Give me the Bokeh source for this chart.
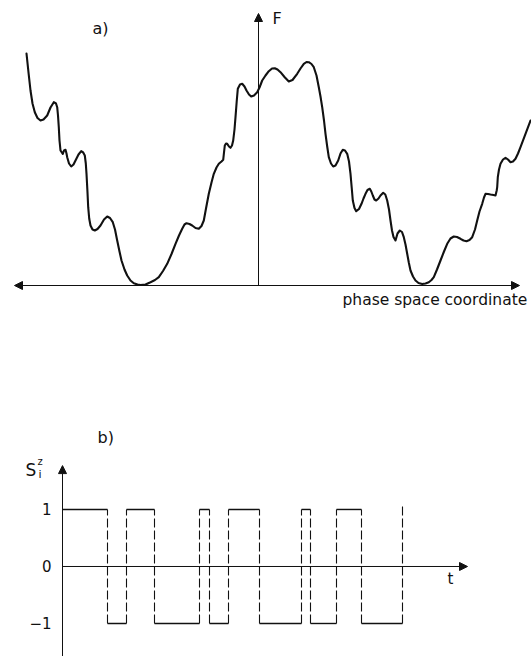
from bokeh.plotting import figure
from bokeh.layouts import column
from bokeh.models import Range1d, Arrow, NormalHead, Label
from bokeh.embed import file_html
from bokeh.resources import INLINE

# ---- (a) rugged free-energy landscape F along one phase space coordinate ----
q = [-23.2, -23.0, -22.8, -22.6, -22.37, -22.1, -21.8, -21.5, -21.13, -20.8,
     -20.47, -20.25, -20.13, -20.05, -19.97, -19.9, -19.8, -19.57, -19.45, -19.3,
     -19.2, -19.13, -18.95, -18.73, -18.5, -18.3, -18.0, -17.73, -17.53, -17.37,
     -17.27, -17.2, -17.1, -17.03, -16.93, -16.8, -16.6, -16.37, -16.1, -15.8,
     -15.45, -15.13, -14.85, -14.57, -14.35, -14.13, -13.9, -13.7, -13.4, -13.13,
     -12.8, -12.47, -12.1, -11.8, -11.3, -10.8, -10.35, -9.97, -9.55, -9.13,
     -8.7, -8.3, -7.95, -7.63, -7.4, -7.2, -6.9, -6.63, -6.3, -5.97,
     -5.7, -5.47, -5.25, -4.97, -4.7, -4.47, -4.2, -3.97, -3.7, -3.53,
     -3.45, -3.37, -3.25, -3.13, -2.95, -2.8, -2.65, -2.53, -2.4, -2.3,
     -2.18, -2.07, -1.85, -1.63, -1.4, -1.2, -0.95, -0.73, -0.45, -0.13,
     0.1, 0.37, 0.7, 1.03, 1.35, 1.63, 1.9, 2.2, 2.6, 3.03,
     3.4, 3.87, 4.2, 4.53, 4.8, 5.03, 5.3, 5.53, 5.8, 6.03,
     6.2, 6.37, 6.55, 6.7, 6.87, 7.03, 7.25, 7.47, 7.7, 7.97,
     8.2, 8.43, 8.65, 8.87, 9.05, 9.2, 9.32, 9.43, 9.6, 9.77,
     10.05, 10.3, 10.5, 10.7, 10.9, 11.13, 11.28, 11.43, 11.6, 11.77,
     12.0, 12.2, 12.47, 12.68, 12.87, 13.05, 13.2, 13.35, 13.5, 13.7,
     13.9, 14.13, 14.35, 14.53, 14.7, 14.87, 15.03, 15.2, 15.45, 15.7,
     16.0, 16.37, 16.7, 17.03, 17.3, 17.53, 17.85, 18.2, 18.55, 18.87,
     19.2, 19.53, 19.85, 20.2, 20.5, 20.8, 21.1, 21.37, 21.65, 21.87,
     22.1, 22.37, 22.55, 22.7, 22.95, 23.2, 23.5, 23.7, 23.82, 23.87,
     23.93, 24.05, 24.2, 24.45, 24.7, 24.95, 25.2, 25.45, 25.7, 25.95,
     26.2, 26.7, 27.2]
F = [23.2, 21.3, 19.5, 18.2, 17.33, 16.75, 16.5, 16.6, 17.0, 17.8,
     18.33, 18.2, 17.83, 17.0, 15.83, 14.5, 13.5, 13.17, 13.5, 13.57,
     13.2, 12.83, 12.2, 11.9, 12.1, 12.5, 13.1, 13.43, 13.3, 13.0,
     12.2, 11.17, 9.3, 7.83, 6.7, 6.0, 5.6, 5.5, 5.65, 6.0,
     6.6, 6.9, 6.75, 6.33, 5.6, 4.5, 3.4, 2.5, 1.6, 1.0,
     0.5, 0.23, 0.1, 0.05, 0.1, 0.33, 0.55, 0.83, 1.45, 2.17,
     3.15, 4.17, 5.0, 5.67, 6.1, 6.23, 6.15, 6.0, 5.75, 5.67,
     5.95, 6.5, 7.7, 9.17, 10.3, 11.17, 11.8, 12.17, 12.4, 12.57,
     13.3, 14.0, 14.2, 14.17, 13.9, 13.77, 14.0, 14.5, 15.6, 16.83,
     18.4, 19.67, 20.1, 20.17, 19.9, 19.5, 19.1, 18.9, 19.0, 19.33,
     19.8, 20.5, 21.0, 21.43, 21.7, 21.73, 21.6, 21.33, 20.85, 20.4,
     20.55, 21.17, 21.7, 22.17, 22.35, 22.33, 22.15, 21.83, 21.0, 19.83,
     18.9, 17.83, 16.5, 15.17, 13.9, 12.83, 12.2, 11.9, 12.0, 12.5,
     13.2, 13.57, 13.5, 13.17, 12.4, 11.17, 9.8, 8.5, 7.75, 7.43,
     7.65, 8.17, 8.7, 9.17, 9.55, 9.67, 9.4, 9.0, 8.6, 8.5,
     8.7, 9.0, 9.27, 9.1, 8.5, 7.6, 6.5, 5.5, 4.85, 4.5,
     5.2, 5.5, 5.35, 4.83, 4.1, 3.17, 2.3, 1.5, 0.9, 0.5,
     0.25, 0.15, 0.2, 0.33, 0.55, 0.83, 1.6, 2.5, 3.4, 4.17,
     4.7, 4.9, 4.85, 4.67, 4.5, 4.43, 4.55, 4.83, 5.6, 6.5,
     7.4, 8.17, 8.8, 9.17, 9.15, 9.1, 9.05, 9.0, 9.5, 9.83,
     10.83, 11.6, 12.17, 12.6, 12.77, 12.6, 12.33, 12.4, 12.67, 13.2,
     13.83, 15.17, 16.5]

# ---- (b) spin S_i^z hopping between +1 and -1 as time goes on ----
t_start = 0.0
flip_t = [4.5, 6.4, 9.2, 13.7, 14.7, 16.6, 19.7, 23.9, 24.8, 27.4, 29.9, 34.0]
levels = [1, -1, 1, -1, 1, -1, 1, -1, 1, -1, 1, -1]
last_flip_top = 1.07
s_ticks = [1, 0, -1]
s_tick_labels = ["1", "0", "\u22121"]

FONT = "DejaVu Sans"
INK = "#111111"


def bare_figure(width, height, xr, yr):
    p = figure(width=width, height=height, x_range=Range1d(*xr), y_range=Range1d(*yr),
               x_axis_type=None, y_axis_type=None, output_backend="svg",
               toolbar_location=None, min_border=0)
    p.grid.visible = False
    p.outline_line_color = None
    p.background_fill_color = "white"
    p.border_fill_color = "white"
    return p


def head(size=8):
    return NormalHead(size=size, fill_color=INK, line_color=INK, line_width=1)


# ---------------- panel a ----------------
pa = bare_figure(531, 330, (-25.8, 27.3), (-4.5, 28.5))

# coordinate axes: two-sided phase-space axis, F axis pointing up
pa.add_layout(Arrow(x_start=-24.4, y_start=0, x_end=26.1, y_end=0,
                    start=head(), end=head(), line_color=INK, line_width=1))
pa.add_layout(Arrow(x_start=0, y_start=0, x_end=0, y_end=27.2,
                    end=head(), line_color=INK, line_width=1))

pa.line(q, F, line_color=INK, line_width=2.1, line_join="round", line_cap="round")

pa.add_layout(Label(x=-16.6, y=24.8, text="a)", text_font=FONT, text_font_size="16px",
                    text_color=INK))
pa.add_layout(Label(x=1.4, y=25.8, text="F", text_font=FONT, text_font_size="16px",
                    text_color=INK))
pa.add_layout(Label(x=8.4, y=-2.3, text="phase space coordinate", text_font=FONT,
                    text_font_size="15.5px", text_color=INK))

# ---------------- panel b ----------------
pb = bare_figure(531, 326, (-6.2, 46.9), (-1.579, 4.14))

pb.add_layout(Arrow(x_start=0, y_start=-1.6, x_end=0, y_end=1.77,
                    end=head(), line_color=INK, line_width=1))
pb.add_layout(Arrow(x_start=0, y_start=0, x_end=40.5, y_end=0,
                    end=head(), line_color=INK, line_width=1))

seg_start = [t_start] + flip_t[:-1]
pb.segment(x0=seg_start, y0=levels, x1=flip_t, y1=levels,
           line_color=INK, line_width=1.4)

# dashed jumps between the two spin states
jump_lo = [min(a, b) for a, b in zip(levels[:-1], levels[1:])]
jump_hi = [max(a, b) for a, b in zip(levels[:-1], levels[1:])]
jump_t = flip_t[:-1] + [flip_t[-1]]
jump_lo = jump_lo + [levels[-1]]
jump_hi = jump_hi + [last_flip_top]
pb.segment(x0=jump_t, y0=jump_lo, x1=jump_t, y1=jump_hi,
           line_color=INK, line_width=1.1, line_dash="9 3")

for s, lab in zip(s_ticks, s_tick_labels):
    pb.add_layout(Label(x=-1.1, y=s, text=lab, text_font=FONT, text_font_size="15px",
                        text_align="right", text_baseline="middle", text_color=INK))

pb.add_layout(Label(x=38.5, y=-0.386, text="t", text_font=FONT, text_font_size="15px",
                    text_color=INK))
pb.add_layout(Label(x=3.5, y=2.09, text="b)", text_font=FONT, text_font_size="16px",
                    text_color=INK))
# S_i^z written as S with stacked superscript z and subscript i
pb.add_layout(Label(x=-3.7, y=1.51, text="S", text_font=FONT, text_font_size="17px",
                    text_color=INK))
pb.add_layout(Label(x=-2.5, y=1.74, text="z", text_font=FONT, text_font_size="10px",
                    text_color=INK))
pb.add_layout(Label(x=-2.4, y=1.5, text="i", text_font=FONT, text_font_size="11px",
                    text_color=INK))

layout = column(pa, pb, spacing=0)
open("out.html", "w").write(file_html(layout, INLINE))
